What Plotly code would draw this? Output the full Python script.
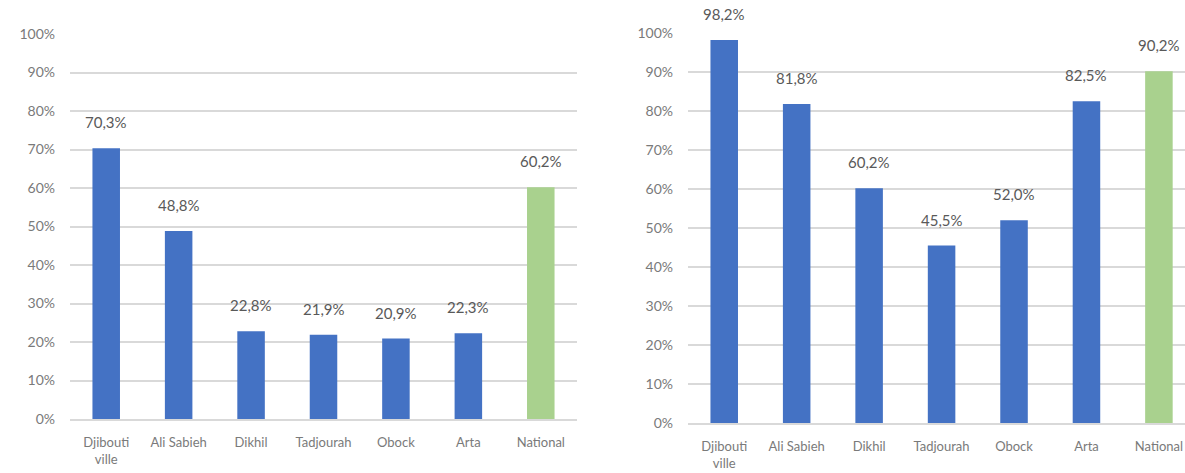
import plotly.graph_objects as go

categories = ["Djibouti<br>ville", "Ali Sabieh", "Dikhil", "Tadjourah", "Obock", "Arta", "National"]
left_values = [0.703, 0.488, 0.228, 0.219, 0.209, 0.223, 0.602]
right_values = [0.982, 0.818, 0.602, 0.455, 0.520, 0.825, 0.902]
left_labels = ["70,3%", "48,8%", "22,8%", "21,9%", "20,9%", "22,3%", "60,2%"]
right_labels = ["98,2%", "81,8%", "60,2%", "45,5%", "52,0%", "82,5%", "90,2%"]
y_ticks = [0, 0.1, 0.2, 0.3, 0.4, 0.5, 0.6, 0.7, 0.8, 0.9, 1.0]
y_tick_text = ["0%", "10%", "20%", "30%", "40%", "50%", "60%", "70%", "80%", "90%", "100%"]

BLUE = "#4472C4"
GREEN = "#A9D18E"
colors = [BLUE] * 6 + [GREEN]
FONT = "Lato"
TICK_COLOR = "#7a7a7a"
LABEL_COLOR = "#595959"
GRID = "#d9d9d9"

W, H = 1185, 473

fig = go.Figure()
fig.add_trace(go.Bar(x=categories, y=left_values, marker=dict(color=colors, line=dict(width=0)),
                     xaxis="x", yaxis="y", showlegend=False, hoverinfo="skip"))
fig.add_trace(go.Bar(x=categories, y=right_values, marker=dict(color=colors, line=dict(width=0)),
                     xaxis="x2", yaxis="y2", showlegend=False, hoverinfo="skip"))

annotations = []
for c, v, t in zip(categories, left_values, left_labels):
    annotations.append(dict(x=c, y=v, xref="x", yref="y", text=t, showarrow=False,
                            yanchor="middle", yshift=26,
                            font=dict(family=FONT, size=15, color=LABEL_COLOR)))
for c, v, t in zip(categories, right_values, right_labels):
    annotations.append(dict(x=c, y=v, xref="x2", yref="y2", text=t, showarrow=False,
                            yanchor="middle", yshift=26,
                            font=dict(family=FONT, size=15, color=LABEL_COLOR)))

yax_common = dict(range=[0, 1], tickvals=y_ticks, ticktext=y_tick_text, showgrid=True,
                  gridcolor=GRID, gridwidth=2, zeroline=False, showline=False,
                  ticks="", ticklabelstandoff=14, automargin=False,
                  tickfont=dict(family=FONT, size=14, color=TICK_COLOR), fixedrange=True)
xax_common = dict(showgrid=False, zeroline=False, showline=True, linecolor=GRID, linewidth=2,
                  ticks="", automargin=False, tickangle=0,
                  tickfont=dict(family=FONT, size=13, color=TICK_COLOR), fixedrange=True)

fig.update_layout(
    width=W, height=H,
    margin=dict(l=0, r=0, t=0, b=0),
    paper_bgcolor="white", plot_bgcolor="white",
    bargap=0.62,
    xaxis=dict(domain=[70 / W, 577 / W], anchor="y", range=[-0.5, 6.5],
               ticklabelstandoff=10, **xax_common),
    yaxis=dict(domain=[54 / H, 439 / H], anchor="x", **yax_common),
    xaxis2=dict(domain=[688 / W, 1.0], anchor="y2", range=[-0.5, 6.36],
                ticklabelstandoff=10, **xax_common),
    yaxis2=dict(domain=[50 / H, 440 / H], anchor="x2", **yax_common),
    annotations=annotations,
)

fig.write_html("out.html")
